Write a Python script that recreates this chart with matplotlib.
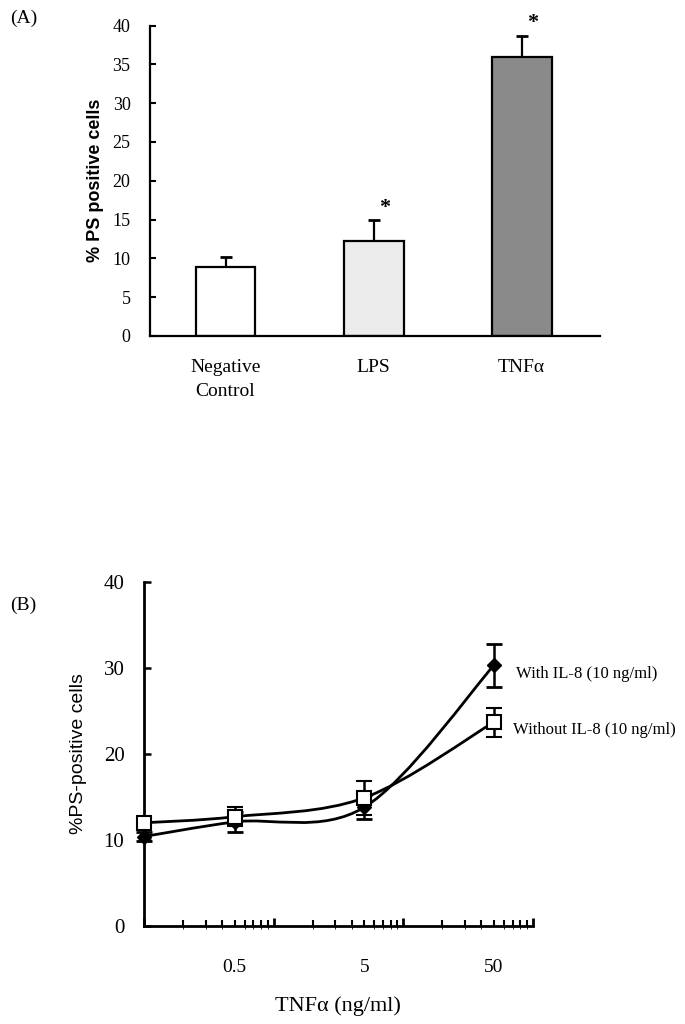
import numpy as np
import matplotlib
matplotlib.use("Agg")
import matplotlib.pyplot as plt
from matplotlib.path import Path
from matplotlib.patches import PathPatch
from matplotlib.ticker import LogLocator, NullFormatter

plt.rcParams["font.family"] = ["Liberation Serif", "DejaVu Serif"]

# --- panel A data ---
groups = ["Negative\nControl", "LPS", "TNFα"]
pct_ps = [8.9, 12.2, 35.9]
pct_err = [1.3, 2.7, 2.8]
signif = [False, True, True]
bar_colors = ["white", "#ebebeb", "#8a8a8a"]

# --- panel B data ---
tnf_conc = [0.1, 0.5, 5, 50]
with_il8 = [10.4, 12.1, 13.8, 30.3]
with_il8_err = [0.5, 1.2, 1.4, 2.5]
without_il8 = [12.0, 12.7, 14.9, 23.7]
without_il8_err = [0.7, 1.1, 2.0, 1.7]
conc_labels = ["0.5", "5", "50"]


def smooth_path(xs, ys):
    # Catmull-Rom style bezier in log-x space, like spreadsheet "smoothed line"
    lx = np.log10(xs)
    ys = np.asarray(ys, float)
    n = len(xs)
    verts = [(xs[0], ys[0])]
    codes = [Path.MOVETO]
    for i in range(n - 1):
        p0 = max(i - 1, 0)
        p3 = min(i + 2, n - 1)
        c1x = lx[i] + (lx[i + 1] - lx[p0]) / 6
        c1y = ys[i] + (ys[i + 1] - ys[p0]) / 6
        c2x = lx[i + 1] - (lx[p3] - lx[i]) / 6
        c2y = ys[i + 1] - (ys[p3] - ys[i]) / 6
        verts += [(10 ** c1x, c1y), (10 ** c2x, c2y), (xs[i + 1], ys[i + 1])]
        codes += [Path.CURVE4] * 3
    return Path(verts, codes)


fig = plt.figure(figsize=(6.85, 10.24), dpi=100)

# --- A: bar chart ---
axA = fig.add_axes([0.219, 0.672, 0.657, 0.303])
x = np.arange(len(groups))
axA.bar(x, pct_ps, width=0.405, color=bar_colors, edgecolor="black", linewidth=1.6, zorder=2)
axA.errorbar(x, pct_ps, yerr=[np.zeros(3), pct_err], fmt="none", ecolor="black",
             elinewidth=1.6, capsize=4, capthick=2, zorder=1)
for xi, top, s in zip(x, np.add(pct_ps, pct_err), signif):
    if s:
        axA.annotate("*", xy=(xi, top), xytext=(8, 2), textcoords="offset points",
                     ha="center", va="bottom", fontsize=16, fontweight="bold")
axA.set_xlim(-0.51, 2.53)
axA.set_ylim(0, 40)
axA.set_yticks(range(0, 41, 5))
axA.set_xticks(x, groups, linespacing=1.5)
axA.tick_params(axis="y", direction="in", length=4, width=1.5, labelsize=13, pad=14)
axA.tick_params(axis="x", length=0, labelsize=14, pad=17)
for sp in ["top", "right"]:
    axA.spines[sp].set_visible(False)
for sp in ["left", "bottom"]:
    axA.spines[sp].set_linewidth(1.6)
axA.set_ylabel("% PS positive cells", family=["Liberation Sans"], fontsize=13,
               fontweight="bold", labelpad=6)

fig.text(0.015, 0.982, "(A)", fontsize=14, va="center")
fig.text(0.015, 0.409, "(B)", fontsize=14, va="center")

# --- B: dose response ---
axB = fig.add_axes([0.210, 0.0957, 0.568, 0.336])
axB.set_xscale("log")
for ys in [with_il8, without_il8]:
    axB.add_patch(PathPatch(smooth_path(tnf_conc, ys), facecolor="none",
                            edgecolor="black", lw=2, zorder=2))
eb1 = axB.errorbar(tnf_conc, with_il8, yerr=with_il8_err, fmt="D", ms=7, mfc="black", mec="black",
                   ecolor="black", elinewidth=1.8, capsize=6, capthick=2, zorder=3)
eb2 = axB.errorbar(tnf_conc, without_il8, yerr=without_il8_err, fmt="s", ms=10, mfc="white",
                   mec="black", mew=1.5, ecolor="black", elinewidth=1.8, capsize=6, capthick=2,
                   zorder=4)
for eb in (eb1, eb2):
    for art in eb.get_children():
        art.set_clip_on(False)
axB.annotate("With IL-8 (10 ng/ml)", xy=(tnf_conc[-1], with_il8[-1]), xytext=(16, -6),
             textcoords="offset points", ha="left", va="center", fontsize=12)
axB.annotate("Without IL-8 (10 ng/ml)", xy=(tnf_conc[-1], without_il8[-1]), xytext=(14, -6),
             textcoords="offset points", ha="left", va="center", fontsize=12)

axB.set_xlim(0.1, 100)
axB.set_ylim(0, 40)
axB.set_yticks(range(0, 41, 10))
axB.xaxis.set_major_locator(LogLocator(base=10, subs=(1.0,)))
axB.xaxis.set_minor_locator(LogLocator(base=10, subs=np.arange(2, 10)))
axB.xaxis.set_major_formatter(NullFormatter())
axB.xaxis.set_minor_formatter(NullFormatter())
axB.tick_params(axis="x", which="major", direction="in", length=6, width=2)
axB.tick_params(axis="x", which="minor", direction="in", length=4, width=1.5)
axB.tick_params(axis="y", direction="in", length=5, width=1.8, labelsize=15, pad=14)
sec = axB.secondary_xaxis("bottom")
sec.set_xticks([0.5, 5, 50], conc_labels)
sec.tick_params(length=0, labelsize=14, pad=24)
sec.spines["bottom"].set_visible(False)
for sp in ["top", "right"]:
    axB.spines[sp].set_visible(False)
for sp in ["left", "bottom"]:
    axB.spines[sp].set_linewidth(2)
axB.set_ylabel("%PS-positive cells", family=["Liberation Sans"], fontsize=14, labelpad=12)
axB.set_xlabel("TNFα (ng/ml)", fontsize=16, labelpad=47)

fig.savefig("out.png", dpi=100)
